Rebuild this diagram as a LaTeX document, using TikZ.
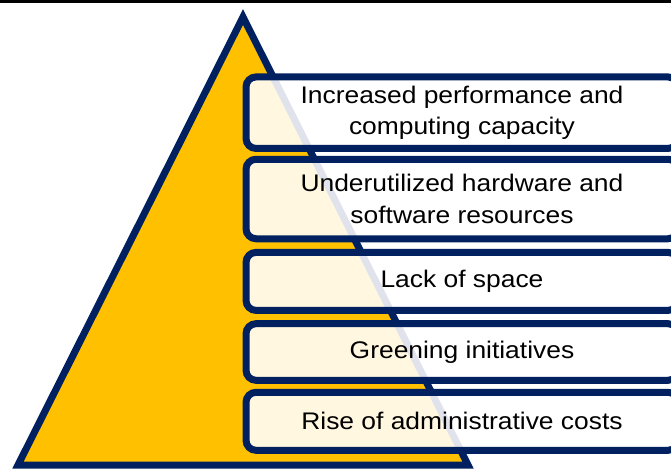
\documentclass[tikz,border=0pt]{standalone}
\usepackage{fontspec}
\setmainfont[FakeStretch=1.1]{Liberation Sans}
\definecolor{Navy}{HTML}{002060}
\definecolor{Gold}{HTML}{FFC000}

\begin{document}
\begin{tikzpicture}[
  x=1pt, y=-1pt,
  pyramid/.style={
    draw=Navy,
    fill=Gold,
    line width=7pt,
    line join=miter
  },
  cause/.style={
    rectangle,
    rounded corners=10pt,
    draw=Navy,
    line width=7pt,
    fill=white,
    fill opacity=0.88,
    text opacity=1,
    text=black,
    align=center,
    minimum width=432pt,
    inner sep=0pt,
    font=\fontsize{24}{31.5}\selectfont
  }
]

\useasboundingbox (0,0) rectangle (671,468);
\clip (0,0) rectangle (671,468);

\draw[black, line width=3.4pt] (0,1.7) -- (671,1.7);

\draw[pyramid] (243,17) -- (18,465) -- (468,465) -- cycle;

\node[cause, minimum height=71.5pt] (perf) at (462,112.7)
  {Increased performance and\\computing capacity};
\node[cause, minimum height=79.5pt] (underused) at (462,199)
  {Underutilized hardware and\\software resources};
\node[cause, minimum height=58pt] (space) at (462,281.4)
  {Lack of space};
\node[cause, minimum height=56.6pt] (green) at (462,352)
  {Greening initiatives};
\node[cause, minimum height=58pt] (admin) at (462,421.3)
  {Rise of administrative costs};

\end{tikzpicture}
\end{document}
